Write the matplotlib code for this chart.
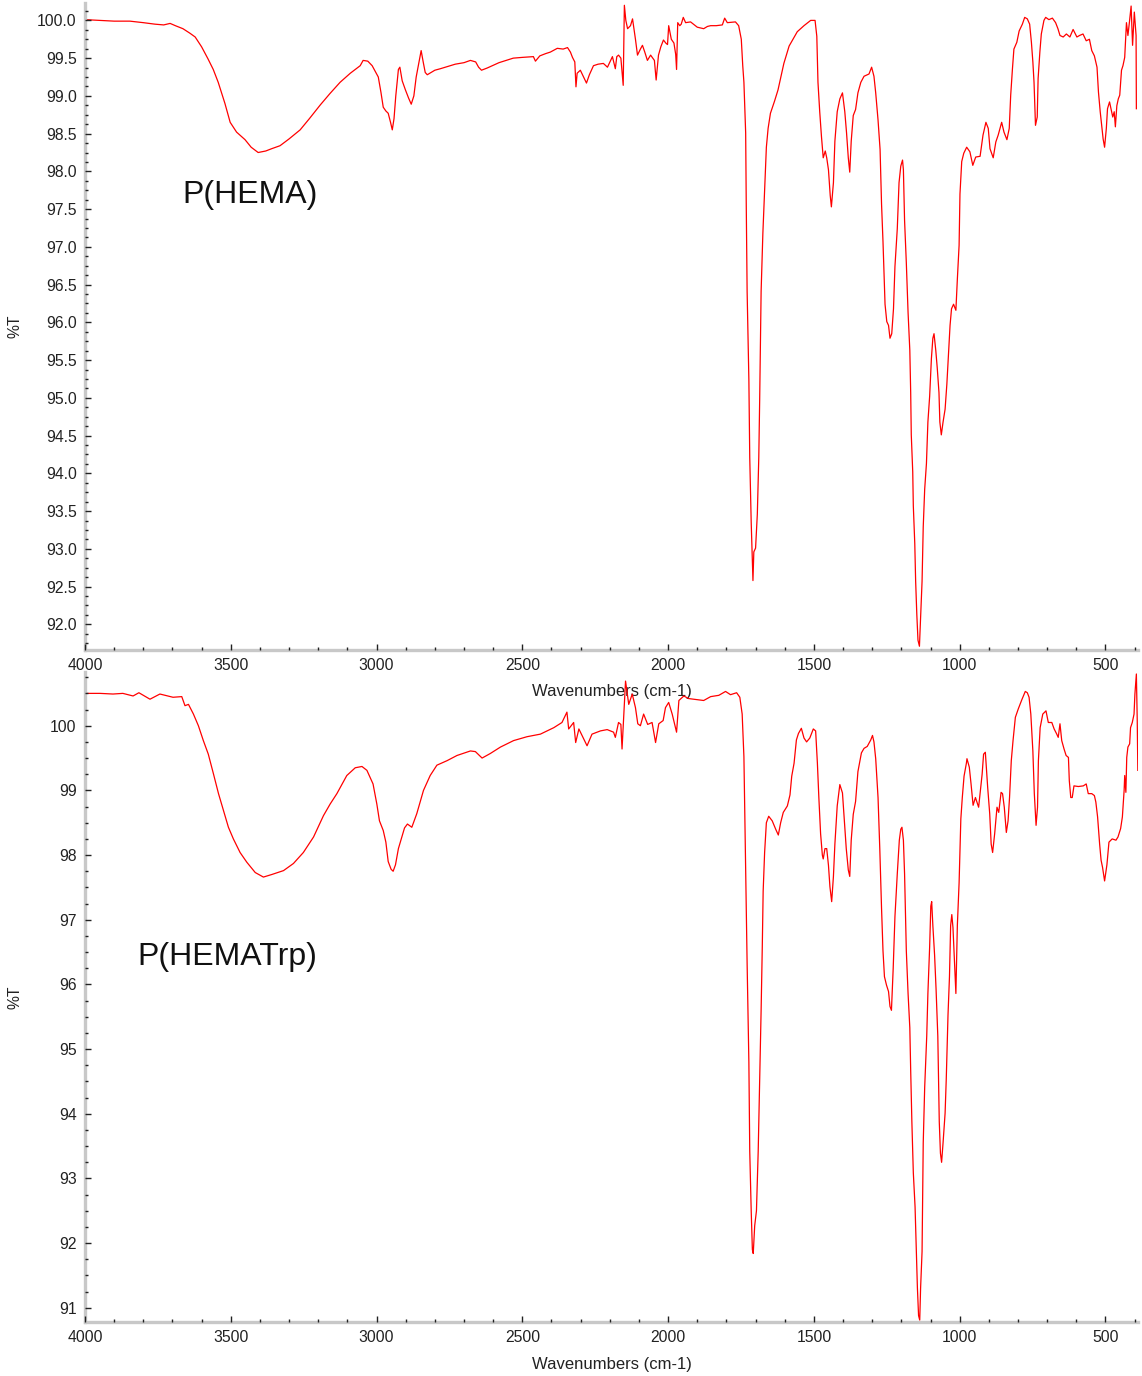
import matplotlib
matplotlib.use("Agg")
import matplotlib.pyplot as plt
from matplotlib.ticker import MultipleLocator, AutoMinorLocator, FormatStrFormatter

plt.rcParams["font.family"] = ["Liberation Sans", "DejaVu Sans"]

# P(HEMA) spectrum: wavenumber (cm-1) and %T
hema_wn = [
    4000, 3950, 3900, 3846, 3800, 3760, 3730, 3708, 3690, 3664, 3640, 3622, 3600, 3578,
    3560, 3543, 3520, 3502, 3480, 3451, 3430, 3406, 3380, 3360, 3331, 3300, 3262, 3230,
    3193, 3160, 3125, 3090, 3056, 3046, 3030, 3015, 2994, 2985, 2977, 2968, 2960, 2952,
    2946, 2940, 2934, 2925, 2920, 2912, 2901, 2890, 2881, 2872, 2864, 2853, 2847, 2840,
    2833, 2826, 2800, 2781, 2730, 2700, 2678, 2660, 2650, 2640, 2620, 2580, 2531, 2500,
    2462, 2455, 2440, 2420, 2404, 2380, 2360, 2345, 2335, 2328, 2320, 2316, 2312, 2301,
    2290, 2280, 2270, 2256, 2240, 2222, 2208, 2191, 2181, 2176, 2170, 2162, 2154, 2150,
    2145, 2139, 2129, 2122, 2112, 2105, 2095, 2088, 2080, 2071, 2060, 2047, 2041, 2033,
    2025, 2016, 2008, 2002, 1998, 1989, 1980, 1974, 1971, 1967, 1960, 1955, 1948, 1940,
    1923, 1910, 1900, 1878, 1865, 1854, 1835, 1814, 1806, 1797, 1769, 1758, 1749, 1744,
    1740, 1734, 1732, 1729, 1723, 1720, 1715, 1711, 1709, 1706, 1700, 1694, 1689, 1686,
    1681, 1675, 1669, 1663, 1657, 1649, 1635, 1623, 1614, 1603, 1585, 1557, 1534, 1511,
    1496, 1490, 1486, 1480, 1474, 1468, 1461, 1456, 1450, 1444, 1440, 1433, 1428, 1420,
    1411, 1402, 1394, 1388, 1382, 1377, 1372, 1365, 1357, 1349, 1339, 1328, 1311, 1302,
    1294, 1288, 1280, 1273, 1268, 1263, 1259, 1256, 1250, 1244, 1239, 1233, 1227, 1222,
    1214, 1208, 1202, 1196, 1193, 1189, 1183, 1177, 1171, 1168, 1166, 1161, 1159, 1154,
    1151, 1147, 1143, 1138, 1134, 1129, 1125, 1120, 1114, 1109, 1103, 1097, 1092, 1088,
    1082, 1077, 1071, 1068, 1063, 1057, 1050, 1044, 1040, 1033, 1028, 1021, 1013, 1008,
    1002, 999, 993, 986, 976, 965, 955, 945, 930, 920, 910, 902, 896, 885,
    876, 868, 856, 848, 838, 830, 825, 819, 814, 804, 796, 785, 777, 768,
    760, 754, 749, 745, 740, 734, 731, 725, 720, 711, 705, 694, 682, 671,
    663, 656, 645, 634, 622, 611, 598, 589, 577, 566, 555, 547, 538, 529,
    524, 518, 508, 503, 497, 493, 486, 481, 475, 470, 466, 461, 456, 451,
    445, 440, 434, 428, 423, 418, 412, 407, 401, 395, 394,
]
hema_t = [
    100.01, 100.00, 99.99, 99.99, 99.97, 99.95, 99.94, 99.96, 99.93, 99.89, 99.83, 99.78, 99.65, 99.49,
    99.35, 99.18, 98.90, 98.65, 98.52, 98.42, 98.32, 98.25, 98.27, 98.30, 98.34, 98.43, 98.55, 98.70,
    98.88, 99.03, 99.18, 99.30, 99.40, 99.47, 99.46, 99.40, 99.25, 99.05, 98.85, 98.80, 98.77, 98.65,
    98.55, 98.70, 99.00, 99.35, 99.38, 99.20, 99.08, 98.97, 98.89, 99.00, 99.25, 99.48, 99.60, 99.45,
    99.31, 99.28, 99.34, 99.36, 99.42, 99.44, 99.47, 99.45, 99.38, 99.34, 99.37, 99.44, 99.50, 99.51,
    99.52, 99.46, 99.53, 99.56, 99.58, 99.63, 99.62, 99.64, 99.58, 99.51, 99.45, 99.12, 99.30, 99.34,
    99.25, 99.17, 99.28, 99.40, 99.42, 99.43, 99.38, 99.52, 99.36, 99.52, 99.54, 99.50, 99.14, 100.20,
    100.00, 99.89, 99.93, 100.02, 99.75, 99.54, 99.62, 99.67, 99.58, 99.47, 99.54, 99.47, 99.21, 99.54,
    99.65, 99.74, 99.70, 99.68, 99.93, 99.75, 99.70, 99.55, 99.35, 99.97, 99.93, 99.95, 100.04, 99.97,
    99.98, 99.94, 99.91, 99.89, 99.92, 99.93, 99.93, 99.94, 100.03, 99.97, 99.98, 99.93, 99.75, 99.40,
    99.18, 98.51, 97.57, 96.41, 95.24, 94.21, 93.35, 92.85, 92.58, 92.96, 93.01, 93.46, 94.21, 94.96,
    96.41, 97.18, 97.74, 98.32, 98.57, 98.77, 98.93, 99.08, 99.24, 99.43, 99.66, 99.85, 99.93, 100.00,
    100.00, 99.79, 99.18, 98.79, 98.46, 98.18, 98.27, 98.18, 98.02, 97.68, 97.53, 97.85, 98.40, 98.79,
    98.96, 99.04, 98.79, 98.51, 98.18, 97.99, 98.40, 98.74, 98.82, 99.04, 99.18, 99.26, 99.29, 99.38,
    99.26, 99.04, 98.68, 98.29, 97.57, 97.07, 96.60, 96.24, 96.01, 95.96, 95.79, 95.85, 96.18, 96.74,
    97.24, 97.85, 98.07, 98.15, 98.02, 97.35, 96.79, 96.13, 95.63, 95.07, 94.51, 94.02, 93.57, 93.07,
    92.57, 92.13, 91.79, 91.71, 92.10, 92.57, 93.29, 93.79, 94.13, 94.68, 95.02, 95.52, 95.79, 95.85,
    95.63, 95.40, 95.07, 94.68, 94.51, 94.68, 94.85, 95.18, 95.46, 95.96, 96.18, 96.24, 96.16, 96.57,
    97.02, 97.70, 98.13, 98.24, 98.32, 98.26, 98.08, 98.19, 98.20, 98.48, 98.65, 98.57, 98.30, 98.18,
    98.39, 98.48, 98.65, 98.52, 98.42, 98.57, 99.01, 99.36, 99.62, 99.71, 99.86, 99.95, 100.04, 100.02,
    99.95, 99.71, 99.45, 99.18, 98.61, 98.72, 99.23, 99.58, 99.82, 100.00, 100.04, 100.01, 100.03, 99.97,
    99.89, 99.80, 99.78, 99.82, 99.78, 99.88, 99.78, 99.80, 99.82, 99.73, 99.75, 99.60, 99.53, 99.38,
    99.05, 98.79, 98.43, 98.32, 98.57, 98.83, 98.92, 98.83, 98.72, 98.79, 98.59, 98.87, 98.96, 99.01,
    99.34, 99.40, 99.51, 99.97, 99.80, 99.97, 100.19, 99.67, 100.11, 99.80, 98.83,
]

# P(HEMATrp) spectrum: wavenumber (cm-1) and %T
trp_wn = [
    4000, 3948, 3904, 3870, 3835, 3815, 3777, 3743, 3698, 3668, 3657, 3645, 3628, 3611,
    3594, 3577, 3559, 3542, 3525, 3508, 3491, 3468, 3445, 3416, 3388, 3359, 3319, 3285,
    3251, 3216, 3182, 3159, 3136, 3102, 3073, 3050, 3033, 3012, 2999, 2990, 2977, 2968,
    2960, 2950, 2943, 2935, 2925, 2913, 2904, 2894, 2879, 2862, 2839, 2816, 2793, 2758,
    2724, 2678, 2661, 2638, 2610, 2575, 2530, 2484, 2438, 2392, 2364, 2347, 2341, 2324,
    2317, 2306, 2290, 2278, 2261, 2232, 2209, 2187, 2181, 2170, 2162, 2158, 2146, 2135,
    2123, 2112, 2104, 2095, 2084, 2070, 2055, 2043, 2032, 2017, 2009, 1998, 1986, 1971,
    1963, 1946, 1930, 1912, 1878, 1854, 1826, 1803, 1786, 1765, 1754, 1746, 1740, 1734,
    1729, 1723, 1720, 1715, 1711, 1708, 1703, 1697, 1691, 1686, 1681, 1677, 1674, 1669,
    1663, 1655, 1643, 1631, 1622, 1614, 1605, 1591, 1582, 1576, 1568, 1560, 1553, 1543,
    1534, 1525, 1514, 1502, 1494, 1488, 1483, 1477, 1471, 1468, 1462, 1456, 1450, 1445,
    1439, 1433, 1428, 1420, 1411, 1402, 1394, 1389, 1382, 1377, 1372, 1365, 1357, 1349,
    1337, 1328, 1317, 1305, 1299, 1294, 1288, 1280, 1274, 1268, 1263, 1258, 1251, 1244,
    1239, 1234, 1228, 1222, 1214, 1207, 1202, 1198, 1193, 1189, 1183, 1177, 1171, 1168,
    1164, 1159, 1153, 1149, 1145, 1141, 1137, 1134, 1129, 1125, 1120, 1113, 1109, 1103,
    1099, 1096, 1092, 1086, 1081, 1075, 1070, 1066, 1062, 1057, 1050, 1046, 1040, 1035,
    1031, 1027, 1023, 1017, 1013, 1008, 1002, 996, 991, 985, 977, 975, 967, 961,
    954, 946, 935, 923, 918, 912, 904, 897, 892, 887, 880, 872, 866, 858,
    853, 847, 840, 834, 829, 823, 817, 809, 799, 787, 775, 768, 762, 756,
    749, 744, 738, 733, 730, 724, 715, 704, 696, 684, 676, 667, 662, 656,
    650, 642, 635, 627, 624, 619, 614, 608, 593, 576, 566, 559, 547, 538,
    533, 527, 520, 515, 510, 503, 495, 488, 477, 464, 457, 448, 442, 436,
    434, 430, 427, 423, 417, 414, 408, 402, 399, 394, 391, 389,
]
trp_t = [
    100.50, 100.50, 100.49, 100.50, 100.46, 100.51, 100.41, 100.49, 100.44, 100.45, 100.31, 100.33, 100.18, 100.00,
    99.77, 99.56, 99.25, 98.95, 98.69, 98.43, 98.25, 98.04, 97.89, 97.73, 97.66, 97.70, 97.76, 97.87,
    98.04, 98.28, 98.61, 98.79, 98.95, 99.23, 99.35, 99.37, 99.31, 99.10, 98.79, 98.53, 98.38, 98.20,
    97.90, 97.78, 97.75, 97.85, 98.10, 98.28, 98.42, 98.48, 98.43, 98.64, 99.00, 99.23, 99.39, 99.46,
    99.54, 99.61, 99.60, 99.50, 99.57, 99.67, 99.77, 99.83, 99.87, 99.97, 100.05, 100.21, 99.95, 100.05,
    99.74, 99.95, 99.80, 99.69, 99.87, 99.92, 99.94, 99.90, 99.82, 100.05, 100.02, 99.64, 100.69, 100.33,
    100.49, 100.28, 100.03, 100.00, 100.18, 100.02, 100.05, 99.74, 100.03, 100.08, 100.28, 100.36, 100.18, 99.90,
    100.39, 100.46, 100.42, 100.41, 100.39, 100.45, 100.47, 100.53, 100.48, 100.51, 100.44, 100.18, 99.52, 97.81,
    96.32, 94.80, 93.42, 92.50, 91.90, 91.84, 92.27, 92.50, 93.42, 94.48, 95.60, 96.58, 97.44, 98.04,
    98.50, 98.60, 98.53, 98.40, 98.31, 98.50, 98.66, 98.76, 98.93, 99.22, 99.42, 99.78, 99.88, 99.96,
    99.81, 99.75, 99.81, 99.95, 99.92, 99.42, 98.89, 98.33, 98.00, 97.94, 98.10, 98.10, 97.84, 97.51,
    97.28, 97.67, 98.17, 98.76, 99.09, 98.96, 98.43, 98.10, 97.77, 97.67, 98.23, 98.63, 98.83, 99.29,
    99.58, 99.65, 99.68, 99.78, 99.85, 99.75, 99.49, 98.89, 98.10, 97.18, 96.52, 96.12, 95.99, 95.89,
    95.66, 95.60, 96.25, 97.05, 97.71, 98.23, 98.40, 98.43, 98.23, 97.71, 96.52, 95.86, 95.33, 94.67,
    93.88, 93.09, 92.56, 91.93, 91.31, 90.88, 90.81, 91.31, 91.87, 93.55, 94.41, 95.20, 95.86, 96.58,
    97.21, 97.28, 96.91, 96.45, 95.93, 95.20, 93.88, 93.39, 93.25, 93.55, 94.01, 94.54, 95.53, 96.12,
    96.91, 97.08, 96.88, 96.25, 95.86, 96.91, 97.57, 98.56, 98.89, 99.22, 99.42, 99.49, 99.36, 99.10,
    98.77, 98.89, 98.74, 99.25, 99.56, 99.59, 99.05, 98.64, 98.17, 98.04, 98.33, 98.74, 98.66, 98.97,
    98.95, 98.74, 98.35, 98.53, 98.89, 99.46, 99.77, 100.13, 100.26, 100.40, 100.53, 100.51, 100.44, 100.18,
    99.61, 98.95, 98.46, 98.74, 99.46, 99.97, 100.18, 100.23, 100.05, 100.05, 99.95, 99.87, 99.82, 100.03,
    99.77, 99.64, 99.54, 99.51, 99.15, 98.89, 98.89, 99.07, 99.06, 99.07, 99.10, 98.95, 98.95, 98.92,
    98.82, 98.59, 98.17, 97.92, 97.81, 97.60, 97.85, 98.20, 98.25, 98.23, 98.28, 98.41, 98.59, 99.00,
    99.23, 98.97, 99.51, 99.67, 99.72, 99.97, 100.05, 100.18, 100.49, 100.80, 100.08, 99.31,
]

panels = [
    # (wavenumbers, %T, name, ylim, y major step, y tick format, name position)
    (hema_wn, hema_t, "P(HEMA)", (91.66, 100.23), 0.5, "%.1f", (3667, 97.69)),
    (trp_wn, trp_t, "P(HEMATrp)", (90.78, 100.83), 1.0, "%.0f", (3821, 96.42)),
]
boxes = [
    [0.0744, 0.5276, 0.9222, 0.4702],
    [0.0744, 0.0392, 0.9222, 0.4724],
]

fig = plt.figure(figsize=(11.42, 13.76), dpi=100)

for (wn, t, name, ylim, ystep, yfmt, name_xy), box in zip(panels, boxes):
    ax = fig.add_axes(box)
    # transparent background so the upper x label stays visible over the lower panel
    ax.patch.set_visible(False)
    ax.plot(wn, t, color="red", linewidth=0.9)
    ax.set_xlim(4000, 388)
    ax.set_ylim(*ylim)

    ax.xaxis.set_major_locator(MultipleLocator(500))
    ax.xaxis.set_minor_locator(AutoMinorLocator(5))
    ax.yaxis.set_major_locator(MultipleLocator(ystep))
    ax.yaxis.set_minor_locator(AutoMinorLocator(4))
    ax.yaxis.set_major_formatter(FormatStrFormatter(yfmt))

    for side in ["top", "right"]:
        ax.spines[side].set_visible(False)
    for side in ["left", "bottom"]:
        ax.spines[side].set_color("#c8c8c8")
        ax.spines[side].set_linewidth(2.4)
    ax.xaxis.set_zorder(3)
    ax.yaxis.set_zorder(3)

    ax.tick_params(which="major", direction="in", length=4, width=1, color="#222222",
                   labelsize=11.3, labelcolor="#222222", pad=6)
    ax.tick_params(which="minor", direction="in", length=2.5, width=1, color="#222222")

    ax.set_xlabel("Wavenumbers (cm-1)", fontsize=12, color="#222222")
    ax.xaxis.set_label_coords(0.5, -0.053)
    ax.set_ylabel("%T", fontsize=11.3, color="#222222")
    ax.yaxis.set_label_coords(-0.059, 0.5)

    ax.text(name_xy[0], name_xy[1], name, fontsize=23, color="#111111",
            ha="left", va="center")

fig.savefig("out.png", dpi=100)
